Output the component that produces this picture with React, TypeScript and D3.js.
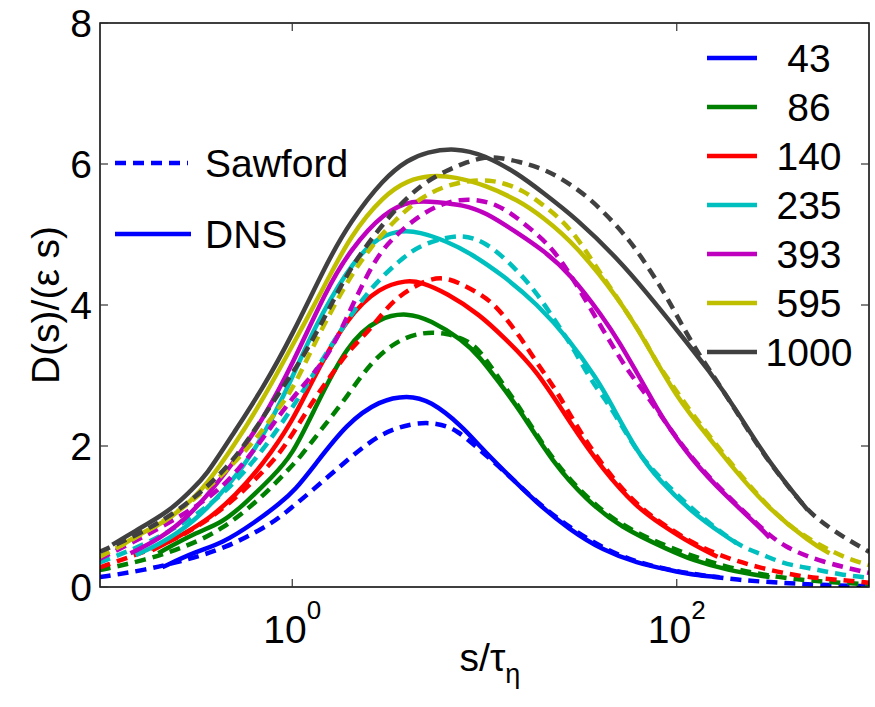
import React from "react";
import * as d3 from "d3";

const W = 875;
const H = 707;

const reLabels = ["43", "86", "140", "235", "393", "595", "1000"];
const colors = ["#0000ff", "#008000", "#ff0000", "#00bfbf", "#bf00bf", "#bfbf00", "#404040"];

// DNS (solid)
const dnsS43 = [0.211, 0.313, 0.433, 0.642, 0.867, 1.036, 1.285, 1.93, 2.86, 3.96, 5.21, 7.73, 9.48, 12.5, 18.7, 27.8, 41.3, 62.0, 92, 121, 167];
const dnsD43 = [0.28, 0.5, 0.62, 0.92, 1.19, 1.38, 1.7, 2.33, 2.65, 2.72, 2.65, 2.27, 1.99, 1.66, 1.19, 0.81, 0.52, 0.34, 0.24, 0.17, 0.14];
const dnsS86 = [0.201, 0.313, 0.433, 0.57, 0.787, 1, 1.285, 1.93, 2.86, 3.96, 5.21, 7.73, 9.48, 12.0, 15.3, 22.7, 34.1, 50.6, 92, 121, 182, 304];
const dnsD86 = [0.48, 0.77, 0.91, 1.19, 1.56, 1.87, 2.48, 3.46, 3.83, 3.89, 3.79, 3.5, 3.26, 2.89, 2.51, 1.76, 1.23, 0.85, 0.52, 0.38, 0.24, 0.14];
const dnsS140 = [0.187, 0.268, 0.375, 0.506, 0.7, 1, 1.285, 1.93, 2.86, 3.96, 4.62, 6.38, 9.48, 12.5, 18.7, 27.8, 41.3, 62.0, 81.6, 121, 163];
const dnsD140 = [0.52, 0.74, 0.98, 1.3, 1.73, 2.34, 2.96, 3.83, 4.26, 4.35, 4.33, 4.17, 3.86, 3.55, 3.08, 2.33, 1.66, 1.13, 0.9, 0.6, 0.43];
const dnsS235 = [0.153, 0.201, 0.299, 0.5, 0.7, 1, 1.285, 1.93, 2.63, 3.51, 4.62, 6.38, 8.4, 12.5, 18.7, 27.8, 38.4, 44.9, 62.0, 81.6, 121, 182, 205];
const dnsD235 = [0.45, 0.6, 0.88, 1.52, 2.11, 2.96, 3.65, 4.5, 4.92, 5.06, 5.04, 4.9, 4.74, 4.42, 4.02, 3.5, 2.95, 2.63, 1.92, 1.5, 1.05, 0.71, 0.62];
const dnsS393 = [0.144, 0.201, 0.299, 0.5, 0.7, 1, 1.5, 2, 3, 4.25, 5.66, 7.73, 10.06, 14.9, 20.1, 27.8, 41.3, 50.6, 62.0, 72.4, 81.6, 121, 182, 270, 304];
const dnsD393 = [0.48, 0.67, 1.02, 1.77, 2.37, 3.15, 4.21, 4.78, 5.32, 5.49, 5.46, 5.42, 5.32, 5.02, 4.78, 4.45, 3.83, 3.46, 3.04, 2.72, 2.45, 1.78, 1.28, 0.85, 0.7];
const dnsS595 = [0.128, 0.149, 0.201, 0.232, 0.299, 0.353, 0.5, 0.7, 1, 1.5, 2, 3, 4, 5.21, 7.03, 10.06, 14.9, 20.1, 29.9, 50, 69.8, 100, 150, 200, 300, 501, 623];
const dnsD595 = [0.58, 0.7, 0.88, 0.98, 1.23, 1.43, 2.01, 2.65, 3.42, 4.31, 4.98, 5.56, 5.77, 5.84, 5.82, 5.7, 5.49, 5.25, 4.85, 4.09, 3.45, 2.68, 2.09, 1.66, 1.11, 0.62, 0.48];
const dnsS1000 = [0.116, 0.149, 0.232, 0.299, 0.353, 0.5, 0.7, 1.0, 1.5, 2.0, 3.0, 4.0, 5.0, 7.0, 10, 15, 20, 30, 50, 70, 100, 150, 200, 300, 480];
const dnsD1000 = [0.6, 0.78, 1.08, 1.38, 1.56, 2.2, 2.81, 3.57, 4.58, 5.18, 5.8, 6.06, 6.17, 6.23, 6.13, 5.86, 5.6, 5.23, 4.64, 4.17, 3.65, 3.04, 2.55, 1.77, 1.09];

// Sawford model (dashed)
const sawS43 = [0.1, 0.172, 0.278, 0.449, 0.724, 0.867, 1.285, 1.93, 2.86, 4.25, 5.66, 7.2, 9.48, 12.5, 18.7, 27.8, 41.3, 62.0, 92, 131.6, 205, 343, 553, 1000];
const sawD43 = [0.14, 0.24, 0.38, 0.55, 0.85, 0.99, 1.38, 1.8, 2.18, 2.33, 2.33, 2.23, 1.94, 1.66, 1.2, 0.84, 0.55, 0.35, 0.24, 0.17, 0.1, 0.06, 0.03, 0.01];
const sawS86 = [0.1, 0.172, 0.278, 0.433, 0.7, 0.92, 1.1, 1.449, 1.93, 2.54, 3.51, 4.79, 6.38, 8.11, 9.48, 12.5, 15.3, 22.7, 34.1, 50.6, 92, 182, 343, 601, 1000];
const sawD86 = [0.24, 0.38, 0.57, 0.81, 1.28, 1.62, 1.84, 2.27, 2.7, 3.18, 3.5, 3.62, 3.6, 3.5, 3.36, 2.87, 2.54, 1.79, 1.26, 0.88, 0.55, 0.27, 0.13, 0.07, 0.04];
const sawS140 = [0.1, 0.172, 0.278, 0.449, 0.724, 0.92, 1.285, 1.575, 1.93, 2.54, 3.12, 3.77, 4.91, 6.09, 7.46, 9.14, 11.07, 13.1, 15.3, 17.9, 21.1, 24.7, 28.8, 41.3, 62.0, 81.6, 121, 173, 270, 451, 728, 1000];
const sawD140 = [0.28, 0.5, 0.74, 1.12, 1.66, 1.99, 2.65, 2.98, 3.33, 3.65, 3.97, 4.17, 4.35, 4.4, 4.31, 4.18, 4.03, 3.79, 3.55, 3.26, 2.98, 2.7, 2.37, 1.7, 1.16, 0.92, 0.62, 0.43, 0.27, 0.14, 0.1, 0.06];
const sawS235 = [0.1, 0.172, 0.278, 0.384, 0.59, 0.953, 1.38, 1.93, 2.63, 3.64, 4.62, 6.38, 7.46, 8.71, 11.07, 15.3, 18.7, 23.8, 27.8, 31.3, 36.6, 44.9, 62.0, 81.6, 121, 212, 270, 343, 451, 553, 728, 1000];
const sawD235 = [0.35, 0.6, 0.92, 1.19, 1.66, 2.44, 3.15, 3.79, 4.28, 4.64, 4.85, 4.96, 4.98, 4.96, 4.82, 4.45, 4.17, 3.74, 3.46, 3.22, 2.89, 2.58, 1.91, 1.55, 1.09, 0.57, 0.48, 0.35, 0.28, 0.24, 0.17, 0.13];
const sawS393 = [0.1, 0.166, 0.313, 0.465, 0.7, 1, 1.52, 2, 2.63, 3.23, 4.46, 5.87, 7.46, 9.48, 11.6, 14.1, 17.2, 21.1, 25.6, 31.3, 41.3, 55.0, 69.8, 81.6, 121, 182, 270, 356, 573, 1000];
const sawD393 = [0.4, 0.7, 1.12, 1.48, 2.09, 2.7, 3.22, 3.93, 4.6, 4.92, 5.25, 5.43, 5.5, 5.49, 5.42, 5.28, 5.09, 4.88, 4.6, 4.21, 3.65, 3.08, 2.72, 2.45, 1.8, 1.3, 0.86, 0.57, 0.35, 0.2];
const sawS595 = [0.1, 0.166, 0.313, 0.506, 0.642, 0.816, 1, 1.24, 1.575, 2.0, 2.54, 3.43, 4.62, 6.23, 8.4, 10.7, 12.5, 15.85, 20.1, 24.7, 30.2, 35.3, 41.3, 48.8, 57.0, 66.6, 78.7, 88.7, 121, 182, 270, 401, 623, 764, 1000];
const sawD595 = [0.43, 0.74, 1.23, 1.77, 2.09, 2.47, 2.79, 3.33, 3.89, 4.4, 4.81, 5.21, 5.52, 5.69, 5.77, 5.77, 5.73, 5.63, 5.42, 5.23, 4.96, 4.68, 4.4, 4.11, 3.83, 3.55, 3.18, 2.98, 2.44, 1.83, 1.26, 0.81, 0.52, 0.41, 0.31];
const sawS1000 = [0.1, 0.166, 0.247, 0.313, 0.384, 0.506, 0.666, 0.92, 1.14, 1.52, 1.93, 2.54, 3.51, 4.79, 6.38, 8.11, 10.06, 12.0, 15.3, 18.7, 23.8, 34.1, 44.9, 57.0, 66.6, 88.7, 121, 182, 270, 451, 533, 646, 811, 1000];
const sawD1000 = [0.5, 0.77, 1.06, 1.28, 1.49, 1.83, 2.3, 2.89, 3.26, 3.89, 4.45, 4.92, 5.39, 5.73, 5.91, 6.03, 6.1, 6.09, 6.03, 5.96, 5.84, 5.55, 5.23, 4.91, 4.65, 4.13, 3.42, 2.72, 1.94, 1.16, 0.98, 0.81, 0.64, 0.5];

const dnsS = [dnsS43, dnsS86, dnsS140, dnsS235, dnsS393, dnsS595, dnsS1000];
const dnsD = [dnsD43, dnsD86, dnsD140, dnsD235, dnsD393, dnsD595, dnsD1000];
const sawS = [sawS43, sawS86, sawS140, sawS235, sawS393, sawS595, sawS1000];
const sawD = [sawD43, sawD86, sawD140, sawD235, sawD393, sawD595, sawD1000];

const yTicks = [0, 2, 4, 6, 8];
const xTicks = [1, 100];
const xTickExp = ["0", "2"];

const FONT = "'Liberation Sans', Arial, Helvetica, sans-serif";

export default function App() {
  const left = 100, right = 869, top = 23, bottom = 587;
  const x = d3.scaleLog().domain([0.1, 1000]).range([left, right]);
  const y = d3.scaleLinear().domain([0, 8]).range([bottom, top]);
  const line = d3
    .line<[number, number]>()
    .x((d) => x(d[0]))
    .y((d) => y(d[1]))
    .curve(d3.curveBasis);

  const zip = (a: number[], b: number[]) => a.map((v, i) => [v, b[i]] as [number, number]);
  const dash = "11,7";
  const fs = 39;

  const series = reLabels.map((_, i) => i);

  return (
    <svg width={W} height={H} style={{ position: "absolute", left: 0, top: 0, background: "#fff" }} fontFamily={FONT}>
      <defs>
        <clipPath id="plotclip">
          <rect x={left} y={top} width={right - left} height={bottom - top} />
        </clipPath>
      </defs>
      <rect x={0} y={0} width={W} height={H} fill="#fff" />
      <g clipPath="url(#plotclip)" fill="none" strokeWidth={4.5}>
        {series.map((i) => (
          <g key={i}>
            <path d={line(zip(dnsS[i], dnsD[i])) || ""} stroke={colors[i]} />
            <path d={line(zip(sawS[i], sawD[i])) || ""} stroke={colors[i]} strokeDasharray={dash} />
          </g>
        ))}
      </g>
      {/* axes box */}
      <rect x={left} y={top} width={right - left} height={bottom - top} fill="none" stroke="#000" strokeWidth={1.5} />
      {yTicks.map((t) => (
        <g key={"y" + t}>
          <line x1={left} x2={left + 8} y1={y(t)} y2={y(t)} stroke="#333" strokeWidth={1.2} />
          <line x1={right} x2={right - 8} y1={y(t)} y2={y(t)} stroke="#333" strokeWidth={1.2} />
          <text x={left - 8} y={y(t) + 14} textAnchor="end" fontSize={fs} fill="#000">
            {t}
          </text>
        </g>
      ))}
      {xTicks.map((t, i) => (
        <g key={"x" + t}>
          <line x1={x(t)} x2={x(t)} y1={bottom} y2={bottom - 8} stroke="#333" strokeWidth={1.2} />
          <line x1={x(t)} x2={x(t)} y1={top} y2={top + 8} stroke="#333" strokeWidth={1.2} />
          <text x={x(t)} y={643} textAnchor="middle" fontSize={fs} fill="#000">
            <tspan>10</tspan>
            <tspan dy={-24} fontSize={26}>
              {xTickExp[i]}
            </tspan>
          </text>
        </g>
      ))}
      {/* axis labels */}
      <text transform="translate(59,305) rotate(-90)" textAnchor="middle" fontSize={fs} fill="#000">
        D(s)/(ε s)
      </text>
      <text x={490} y={671} textAnchor="middle" fontSize={fs} fill="#000">
        <tspan>s/τ</tspan>
        <tspan dy={12} fontSize={27}>
          η
        </tspan>
      </text>
      {/* right legend */}
      {series.map((i) => {
        const ly = 58 + i * 49;
        return (
          <g key={"lg" + i}>
            <line x1={707} x2={757} y1={ly} y2={ly} stroke={colors[i]} strokeWidth={4.5} />
            <text x={809} y={ly + 14} textAnchor="middle" fontSize={fs} fill="#000">
              {reLabels[i]}
            </text>
          </g>
        );
      })}
      {/* left legend */}
      <line x1={115} x2={188} y1={163} y2={163} stroke="#0000ff" strokeWidth={4.5} strokeDasharray={dash} />
      <text x={205} y={177} fontSize={fs} fill="#000">
        Sawford
      </text>
      <line x1={115} x2={191} y1={234} y2={234} stroke="#0000ff" strokeWidth={4.5} />
      <text x={205} y={248} fontSize={fs} fill="#000">
        DNS
      </text>
    </svg>
  );
}
